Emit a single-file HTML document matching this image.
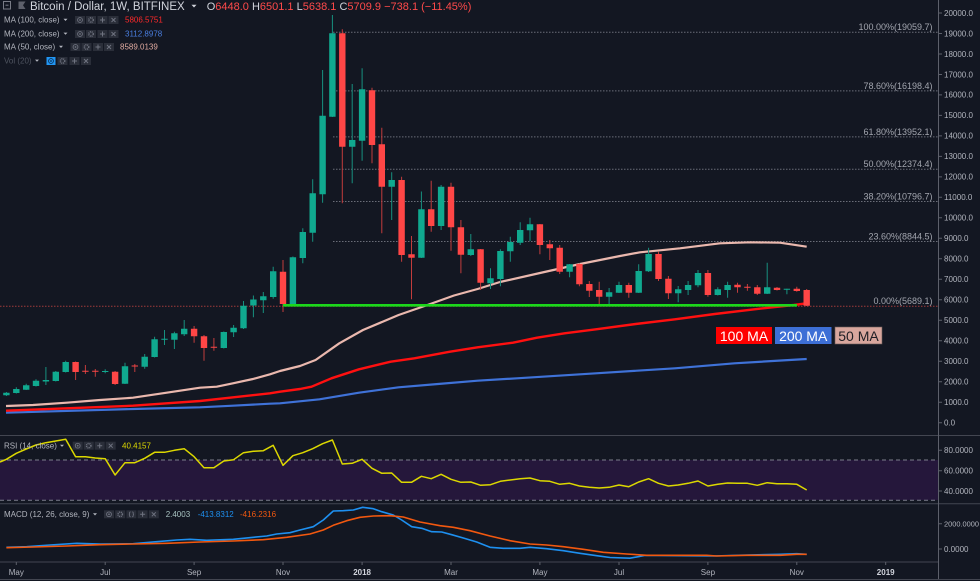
<!DOCTYPE html>
<html><head><meta charset="utf-8"><style>
html,body{margin:0;padding:0;background:#131722;}
svg{display:block;font-family:"Liberation Sans",sans-serif;}
</style></head><body>
<svg width="980" height="581" viewBox="0 0 980 581" xmlns="http://www.w3.org/2000/svg">
<defs>
<clipPath id="cm"><rect x="0" y="0" width="938" height="435"/></clipPath>
<g id="be"><rect width="10" height="8" fill="#2a2e39"/><circle cx="5" cy="4" r="2.4" fill="none" stroke="#6f7380" stroke-width="0.9"/><circle cx="5" cy="4" r="0.9" fill="#6f7380"/></g>
<g id="bg"><rect width="10" height="8" fill="#2a2e39"/><circle cx="5" cy="4" r="2.2" fill="none" stroke="#6f7380" stroke-width="1.5" stroke-dasharray="1 0.8"/></g>
<g id="bp"><rect width="10" height="8" fill="#2a2e39"/><path d="M5 1.5V6.5M2.5 4H7.5" stroke="#6f7380" stroke-width="1"/></g>
<g id="bx"><rect width="10" height="8" fill="#2a2e39"/><path d="M3 2L7 6M7 2L3 6" stroke="#6f7380" stroke-width="1"/></g>
<g id="bc"><rect width="10" height="8" fill="#2a2e39"/><path d="M4.2 1.6q-1 0-1 1v0.7q0 0.7-0.7 0.7q0.7 0 0.7 0.7v0.7q0 1 1 1M5.8 1.6q1 0 1 1v0.7q0 0.7 0.7 0.7q-0.7 0-0.7 0.7v0.7q0 1-1 1" fill="none" stroke="#6f7380" stroke-width="0.8"/></g>
</defs>

<rect width="980" height="581" fill="#131722"/>

<!-- RSI band -->
<rect x="0" y="460" width="938" height="40" fill="#25173b"/>
<path d="M0 460H938M0 500.2H938" stroke="#7d7f8c" stroke-width="1" stroke-dasharray="4 3"/>

<!-- pane separators -->
<path d="M0 435.5H980M0 503.7H980M0 562H938M0 579.5H980" stroke="#434651" stroke-width="1"/>
<path d="M938.5 0V579" stroke="#5d606b" stroke-width="1"/>

<g clip-path="url(#cm)">
<!-- fib lines -->
<path d="M333 32.3H938M333 90.9H938M333 136.9H938M333 169.2H938M333 201.5H938M333 241.5H938" stroke="#6a6d78" stroke-width="1" stroke-dasharray="1.5 1.5"/>
<path d="M0 306.2H938" stroke="#a03a3a" stroke-width="1" stroke-dasharray="1.5 1.5"/>

<!-- MA lines -->
<polyline fill="none" stroke="#3f72d8" stroke-width="2.2" stroke-linejoin="round" points="6,412.7 133,409 200,407.3 233,405.7 270,403.7 280,403.3 319.5,399.3 359,392.7 398.6,387.3 438,384 477.6,380.7 517,378.3 596,373.3 675,368.3 734.5,363.3 806.7,359"/>
<polyline fill="none" stroke="#ff1010" stroke-width="2.4" stroke-linejoin="round" points="6,410.7 66.7,408.3 133,405.7 166.7,403.3 200,401 233.3,397.3 270,393.3 280,391.7 300,389 311.6,386.7 331.4,378.3 359,369.3 390.7,361.7 414.4,358.3 450,351.7 477.6,347.3 513,342.7 537,337.7 564.6,333.3 596,329.3 635.7,324 675,319.3 714.8,314 754.3,309.3 793.8,305 806.7,303.3"/>
<polyline fill="none" stroke="#eab8ae" stroke-width="2.2" stroke-linejoin="round" points="6,406 33,405 66.7,402.7 100,400 133,397.7 166.7,392.7 200,387.7 216.7,386.7 233,383.3 253,379 270,374.3 280,371 300,366 315.6,360 339.3,343.3 363,330 398.6,315 426,305.5 454,295.5 477.6,289 500,282 540,273 580,264 620,256 640,252.3 680,248.3 720,243.3 750,242.3 780,242.7 806.7,246.7"/>

<!-- wicks -->
<path stroke="#17907f" stroke-width="1" fill="none" d="M6.4 392V396M16.3 387.3V393.5M26.2 383.7V390M36 379.3V386.5M45.9 367V385M55.8 371V381.5M65.7 360.7V372.5M105.2 369.3V373.3M125 362.7V384M144.7 354V368.7M154.6 336.7V357.5M164.5 330V345M174.4 331.7V349M184.2 320V336M223.8 331.5V348.5M233.6 325V337M243.5 301V329M253.4 295.5V317.3M263.3 292V313M273.2 266.7V298.7M292.9 256.5V304.5M302.8 228.3V263.3M312.7 179.3V241.7M322.6 70V202.7M332.4 15V117M352.2 84V183.3M362.1 68.3V160.7M391.7 172.3V220M421.4 191.5V258M441.1 185V230M470.8 234V256M490.5 268.3V289M500.4 249.3V286.3M510.3 236.7V261.7M520.2 222.3V245M530 217.7V241M569.6 264V277.3M609.1 288V304M619 281.7V293M638.7 264.3V293M648.6 247.7V272M678.2 286V302.3M688.1 281V295M698 270V287.3M717.8 287.3V295.5M727.6 281.7V297.7M767.2 262.7V294M786.9 288.7V294.3"/>
<path stroke="#c23c3c" stroke-width="1" fill="none" d="M75.6 361.5V380M85.4 365V374M95.3 369V376.7M115.1 371V385M134.8 364V372M194.1 326V342.7M204 335V360.7M213.9 338V350.7M283 260V312M342.3 29.3V203.3M372 87.7V163.3M381.8 127.7V233.3M401.6 176.7V261.7M411.5 236V299.3M431.2 180.7V231.7M451 182.7V250.7M460.9 220V273.3M480.6 249V290M539.9 224V254.3M549.8 240V260M559.7 245V274M579.4 263.5V286.3M589.3 281V297M599.2 281.7V305M628.8 282.7V297.7M658.5 251.7V281M668.4 276V299M707.9 270V296.7M737.5 282.7V292.7M747.4 284V290.7M757.3 285V295M777 287V290.5M796.8 286.7V291.7M806.7 289V306"/>

<!-- bodies -->
<path fill="#10a98f" d="M3.2 392.7h6.4v2.6h-6.4zM13.1 389h6.4v4h-6.4zM23 385.3h6.4v4.4h-6.4zM32.8 380.7h6.4v5.3h-6.4zM42.7 380h6.4v1.5h-6.4zM52.6 371.7h6.4v9.3h-6.4zM62.5 362h6.4v10h-6.4zM102 371h6.4v1h-6.4zM121.8 366.3h6.4v17.4h-6.4zM141.5 356.7h6.4v10h-6.4zM151.4 339.3h6.4v17.7h-6.4zM161.3 338.8h6.4v1h-6.4zM171.2 333.3h6.4v6.4h-6.4zM181 328.7h6.4v5.6h-6.4zM220.6 332h6.4v16h-6.4zM230.4 327.7h6.4v4.6h-6.4zM240.3 305.7h6.4v22.6h-6.4zM250.2 299.5h6.4v6h-6.4zM260.1 296.2h6.4v4.1h-6.4zM270 271.3h6.4v25.7h-6.4zM289.7 257.3h6.4v46.7h-6.4zM299.6 232h6.4v26h-6.4zM309.5 193.3h6.4v39.4h-6.4zM319.4 115.7h6.4v78.6h-6.4zM329.2 33.3h6.4v83.4h-6.4zM349 140h6.4v6.7h-6.4zM358.9 89.3h6.4v51.4h-6.4zM388.5 180h6.4v6.7h-6.4zM418.2 209.3h6.4v48.4h-6.4zM437.9 186.7h6.4v39.3h-6.4zM467.6 249.3h6.4v5.7h-6.4zM487.3 278.3h6.4v5h-6.4zM497.2 251h6.4v28h-6.4zM507.1 242h6.4v9.3h-6.4zM517 230h6.4v12.7h-6.4zM526.8 224.3h6.4v6h-6.4zM566.4 264.3h6.4v7.4h-6.4zM605.9 292.3h6.4v4.4h-6.4zM615.8 285h6.4v7.7h-6.4zM635.5 271h6.4v21.7h-6.4zM645.4 254h6.4v17.3h-6.4zM675 289.3h6.4v4h-6.4zM684.9 285h6.4v5h-6.4zM694.8 273h6.4v12.3h-6.4zM714.6 289.3h6.4v5.7h-6.4zM724.4 285h6.4v5h-6.4zM764 287.3h6.4v6.4h-6.4zM783.7 288.8h6.4v1h-6.4z"/>
<path fill="#ff4646" d="M72.4 362h6.4v10h-6.4zM82.2 370.8h6.4v1h-6.4zM92.1 370.8h6.4v1h-6.4zM111.9 371.7h6.4v12.3h-6.4zM131.6 365.5h6.4v1h-6.4zM190.9 328.7h6.4v7.6h-6.4zM200.8 336.3h6.4v11.7h-6.4zM210.7 346.8h6.4v1h-6.4zM279.8 271.7h6.4v32.3h-6.4zM339.1 33.3h6.4v113.4h-6.4zM368.8 90.3h6.4v54.7h-6.4zM378.6 144.3h6.4v42.4h-6.4zM398.4 180h6.4v75h-6.4zM408.3 254.3h6.4v3.4h-6.4zM428 209.3h6.4v16.7h-6.4zM447.8 186.7h6.4v40.6h-6.4zM457.7 227.3h6.4v27.4h-6.4zM477.4 249.3h6.4v33.4h-6.4zM536.7 224.3h6.4v20.7h-6.4zM546.6 244.3h6.4v4h-6.4zM556.5 247.7h6.4v24h-6.4zM576.2 264h6.4v20.3h-6.4zM586.1 284h6.4v6.7h-6.4zM596 290h6.4v6.7h-6.4zM625.6 285h6.4v7.7h-6.4zM655.3 254h6.4v25h-6.4zM665.2 278.7h6.4v14.6h-6.4zM704.7 273h6.4v22h-6.4zM734.3 284.7h6.4v2.6h-6.4zM744.2 286.8h6.4v1h-6.4zM754.1 287.3h6.4v6.4h-6.4zM773.8 287.7h6.4v2.3h-6.4zM793.6 288.7h6.4v2.3h-6.4zM803.5 290h6.4v15.7h-6.4z"/>

<!-- green support line -->
<path d="M283 305.3H797" stroke="#1bd81b" stroke-width="2.6"/>
</g>

<!-- fib labels -->
<g font-size="9" fill="#a3a6af" text-anchor="end">
<text x="932.5" y="30.2">100.00%(19059.7)</text>
<text x="932.5" y="88.8">78.60%(16198.4)</text>
<text x="932.5" y="134.8">61.80%(13952.1)</text>
<text x="932.5" y="167.1">50.00%(12374.4)</text>
<text x="932.5" y="199.4">38.20%(10796.7)</text>
<text x="932.5" y="239.4">23.60%(8844.5)</text>
<text x="932.5" y="304.1">0.00%(5689.1)</text>
</g>

<!-- MA label boxes -->
<rect x="716" y="327" width="56" height="17" fill="#ff0000"/>
<text x="744" y="341" font-size="14" fill="#ffffff" text-anchor="middle">100 MA</text>
<rect x="775" y="327" width="56.5" height="17" fill="#3d6fd6"/>
<text x="803.2" y="341" font-size="14" fill="#ffffff" text-anchor="middle">200 MA</text>
<rect x="835" y="327" width="47" height="17" fill="#d8a69d" stroke="#6a5a58" stroke-width="0.6"/>
<text x="858.5" y="341" font-size="14" fill="#1e1e24" text-anchor="middle">50 MA</text>

<!-- RSI line -->
<polyline fill="none" stroke="#dcd800" stroke-width="1.5" stroke-linejoin="round" points="0,462 6.4,459.3 16.3,453.3 26.2,449 36,445 45.9,442.7 55.8,441 65.7,439.3 75.6,456.7 85.4,456.7 95.3,458 105.2,458.7 115.1,475 125,462.7 134.8,462.7 144.7,458.3 154.6,452.3 164.5,452.3 174.4,450.3 184.2,448.7 194.1,456.7 204,467.7 213.9,467.7 223.8,461 233.6,459.7 243.5,452.7 253.4,451.3 263.3,450.7 273.2,445.3 283,465.3 292.9,455.7 302.8,452.7 312.7,448.7 322.6,443.7 332.4,440 342.3,464 352.2,463.3 362.1,459.3 372,468.3 381.8,473.3 391.7,473 401.6,482.3 411.5,482.3 421.4,476.3 431.2,478.7 441.1,474.3 451,479.3 460.9,482.3 470.8,482 480.6,485.3 490.5,484.7 500.4,481.3 510.3,480 520.2,478.7 530,478 539.9,480.7 549.8,481.3 559.7,484.3 569.6,483.3 579.4,486 589.3,487.3 599.2,488 609.1,487.3 619,485 628.8,486.7 638.7,482 648.6,478.7 658.5,483.3 668.4,486 678.2,485 688.1,483.3 698,481 707.9,486 717.8,484.3 727.6,483 737.5,483.3 747.4,483.3 757.3,485.3 767.2,482.7 777,483.7 786.9,483.7 796.8,484.3 806.7,490"/>

<!-- MACD lines -->
<polyline fill="none" stroke="#1e90f0" stroke-width="1.6" stroke-linejoin="round" points="6.4,547.3 26.7,546.7 50,545 76.7,543.3 100,544 133.3,543.7 156.7,541.7 176.7,540 190,539.3 206.7,540.3 233.3,539.3 253.3,537.3 266.7,536 276.7,534 290,532.7 300,530 313.3,526.7 323.3,520 333.3,511 343.3,510.7 353.3,510 362.7,507.3 373.3,508.7 381.7,511.7 393.3,515 401.7,520 411.7,526.7 421.7,528.3 431.7,531.7 441.7,532 451.7,534.7 463.3,538 476.7,542 490,547.3 503.3,548.3 520,548.3 530,547.3 546.7,548.7 563.3,550.7 580,553.3 596.7,555.7 610,557.5 630,558.2 638.3,556.7 645,555.3 680,555.7 713.3,556 746.7,555 780,554.3 796.7,553.7 806.7,554.3"/>
<polyline fill="none" stroke="#f2580f" stroke-width="1.6" stroke-linejoin="round" points="6.4,547.7 33.3,547 66.7,546 100,544.7 133.3,544 166.7,543.3 200,542 233.3,541 263.3,539.7 286.7,537.3 310,534 323.3,530 333.3,525.3 346.7,520.7 360,517.3 373.3,516 390,515.7 403.3,517 420,522 440,525.7 453.3,527.3 470,530.7 490,536 510,540.7 530,544 546.7,545 563.3,546.7 583.3,549.3 603.3,552.3 626.7,554 646.7,555.3 680,555.3 706.7,555.3 716.7,556 746.7,555.3 780,555.3 796.7,554.3 806.7,554.3"/>

<!-- right axis ticks -->
<path stroke="#5d606b" stroke-width="1" d="M938.5 13H942M938.5 33.5H942M938.5 54H942M938.5 74.5H942M938.5 94.9H942M938.5 115.4H942M938.5 135.9H942M938.5 156.4H942M938.5 176.9H942M938.5 197.3H942M938.5 217.8H942M938.5 238.3H942M938.5 258.8H942M938.5 279.3H942M938.5 299.8H942M938.5 320.3H942M938.5 340.8H942M938.5 361.2H942M938.5 381.7H942M938.5 402.2H942M938.5 422.7H942M938.5 450.3H942M938.5 470.7H942M938.5 491H942M938.5 523.7H942M938.5 549H942"/>
<g font-size="8" fill="#b2b5be">
<text x="944" y="15.8">20000.0</text>
<text x="944" y="36.3">19000.0</text>
<text x="944" y="56.8">18000.0</text>
<text x="944" y="77.3">17000.0</text>
<text x="944" y="97.7">16000.0</text>
<text x="944" y="118.2">15000.0</text>
<text x="944" y="138.7">14000.0</text>
<text x="944" y="159.2">13000.0</text>
<text x="944" y="179.7">12000.0</text>
<text x="944" y="200.1">11000.0</text>
<text x="944" y="220.6">10000.0</text>
<text x="944" y="241.1">9000.0</text>
<text x="944" y="261.6">8000.0</text>
<text x="944" y="282.1">7000.0</text>
<text x="944" y="302.6">6000.0</text>
<text x="944" y="323.1">5000.0</text>
<text x="944" y="343.6">4000.0</text>
<text x="944" y="364">3000.0</text>
<text x="944" y="384.5">2000.0</text>
<text x="944" y="405">1000.0</text>
<text x="944" y="425.5">0.0</text>
<text x="944" y="453.1">80.0000</text>
<text x="944" y="473.5">60.0000</text>
<text x="944" y="493.8">40.0000</text>
<text x="944" y="526.5" font-size="7.4">2000.0000</text>
<text x="944" y="551.8">0.0000</text>
</g>

<!-- x axis -->
<path stroke="#5d606b" stroke-width="1" d="M16.3 562V565M105.2 562V565M194.1 562V565M283 562V565M362.1 562V565M451 562V565M539.9 562V565M619 562V565M707.9 562V565M796.8 562V565M885.7 562V565"/>
<g font-size="8" fill="#b2b5be" text-anchor="middle">
<text x="16.3" y="574.8">May</text>
<text x="105.2" y="574.8">Jul</text>
<text x="194.1" y="574.8">Sep</text>
<text x="283" y="574.8">Nov</text>
<text x="362.1" y="574.8" font-weight="bold" fill="#d1d4dc">2018</text>
<text x="451" y="574.8">Mar</text>
<text x="539.9" y="574.8">May</text>
<text x="619" y="574.8">Jul</text>
<text x="707.9" y="574.8">Sep</text>
<text x="796.8" y="574.8">Nov</text>
<text x="885.7" y="574.8" font-weight="bold" fill="#d1d4dc">2019</text>
</g>

<!-- top legend -->
<rect x="3.5" y="1.5" width="7" height="7.5" fill="none" stroke="#787b86" stroke-width="1"/>
<path d="M5.5 5.2H8.5" stroke="#787b86" stroke-width="1"/>
<path d="M18.5 1.5H25.5L23 5.2L25.5 9H18.5Z" fill="#5d606b"/>
<text x="30" y="10.2" font-size="11.5" fill="#d1d4dc">Bitcoin / Dollar, 1W, BITFINEX</text>
<path d="M191.5 4.8H196.5L194 7.5Z" fill="#d1d4dc"/>
<text x="206.7" y="10.2" font-size="11" fill="#d1d4dc">O<tspan fill="#ff4a4a">6448.0</tspan> H<tspan fill="#ff4a4a">6501.1</tspan> L<tspan fill="#ff4a4a">5638.1</tspan> C<tspan fill="#ff4a4a">5709.9</tspan> <tspan fill="#ff4a4a">−738.1 (−11.45%)</tspan></text>

<g font-size="8" fill="#b2b5be">
<text x="4" y="22.6">MA (100, close)</text>
<text x="4" y="36.4">MA (200, close)</text>
<text x="4" y="49.6">MA (50, close)</text>
<text x="4" y="63.4" fill="#4f5460">Vol (20)</text>
</g>
<path fill="#b2b5be" d="M63.5 18.8H67.5L65.5 21ZM63.5 32.6H67.5L65.5 34.8ZM59 45.8H63L61 48ZM35 59.6H39L37 61.8Z"/>
<use href="#be" x="75" y="16"/><use href="#bg" x="86" y="16"/><use href="#bp" x="97.5" y="16"/><use href="#bx" x="108.5" y="16"/>
<use href="#be" x="75" y="30"/><use href="#bg" x="86" y="30"/><use href="#bp" x="97.5" y="30"/><use href="#bx" x="108.5" y="30"/>
<use href="#be" x="70.5" y="43"/><use href="#bg" x="81.5" y="43"/><use href="#bp" x="93" y="43"/><use href="#bx" x="104" y="43"/>
<rect x="46.5" y="57" width="9" height="8" fill="#2196f3"/>
<circle cx="51" cy="61" r="2.4" fill="none" stroke="#0c2f55" stroke-width="0.9"/><circle cx="51" cy="61" r="0.9" fill="#0c2f55"/>
<use href="#bg" x="57.5" y="57"/><use href="#bp" x="69.5" y="57"/><use href="#bx" x="81" y="57"/>
<text x="125" y="22.6" font-size="8" fill="#ff2a2a">5806.5751</text>
<text x="125" y="36.4" font-size="8" fill="#4a7ee0">3112.8978</text>
<text x="120" y="49.6" font-size="8" fill="#e0aaa0">8589.0139</text>

<!-- RSI legend -->
<text x="4" y="448.5" font-size="8" fill="#b2b5be">RSI (14, close)</text>
<path fill="#b2b5be" d="M60 444.7H64L62 446.9Z"/>
<use href="#be" x="72.7" y="441.7"/><use href="#bg" x="83.7" y="441.7"/><use href="#bp" x="94.7" y="441.7"/><use href="#bx" x="105.7" y="441.7"/>
<text x="122" y="448.5" font-size="8" fill="#dcd800">40.4157</text>

<!-- MACD legend -->
<text x="4" y="517.1" font-size="8" fill="#b2b5be">MACD (12, 26, close, 9)</text>
<path fill="#b2b5be" d="M93 513.3H97L95 515.5Z"/>
<use href="#be" x="104" y="510.3"/><use href="#bg" x="115.2" y="510.3"/><use href="#bc" x="126.4" y="510.3"/><use href="#bp" x="137.6" y="510.3"/><use href="#bx" x="148.8" y="510.3"/>
<text x="165.7" y="517.1" font-size="8" fill="#a7c2c0">2.4003</text>
<text x="197.7" y="517.1" font-size="8" fill="#1e90f0">-413.8312</text>
<text x="240" y="517.1" font-size="8" fill="#f2580f">-416.2316</text>
</svg>
</body></html>
